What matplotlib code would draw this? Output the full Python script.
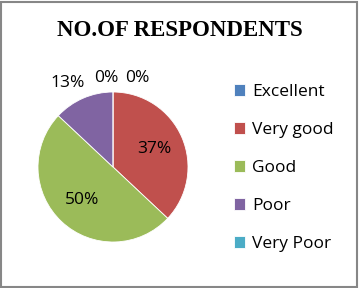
import matplotlib.pyplot as plt
from matplotlib.patches import Rectangle

categories = ["Excellent", "Very good", "Good", "Poor", "Very Poor"]
values = [0, 37, 50, 13, 0]
colors = ["#4F81BD", "#C0504D", "#9BBB59", "#8064A2", "#4BACC6"]

plt.rcParams['font.family'] = ['Open Sans', 'DejaVu Sans']

fig = plt.figure(figsize=(3.6, 2.88), dpi=100)
ax = fig.add_axes([38 / 360, 46 / 288, 150 / 360, 150 / 288])

wedges, texts, autotexts = ax.pie(values, colors=colors, startangle=90, counterclock=False,
                                  autopct=lambda p: f"{p:.0f}%", pctdistance=0.6,
                                  wedgeprops=dict(edgecolor="white", linewidth=0.6),
                                  textprops=dict(fontsize=12.5, color="black"))
ax.set_xlim(-1, 1)
ax.set_ylim(-1, 1)
ax.set_aspect("equal")

# small slices get their labels outside, like Excel does
outside = {0: (0.33, 1.18), 4: (-0.09, 1.18), 3: (-0.6, 1.12)}
for i, pos in outside.items():
    autotexts[i].set_position(pos)
for t in autotexts:
    t.set_clip_on(False)

fig.text(0.5, 1 - 30 / 288, "NO.OF RESPONDENTS", ha="center", va="center",
         fontsize=16.5, fontweight="bold", family="Liberation Serif")

leg = fig.legend(wedges, categories, loc="upper left", bbox_to_anchor=(234 / 360, 1 - 84 / 288),
                 frameon=False, fontsize=12.5, handlelength=0.65, handleheight=0.65,
                 handletextpad=0.4, labelspacing=1.27, borderaxespad=0, borderpad=0)

fig.patches.append(Rectangle((0.002, 0.004), 0.99, 0.99, transform=fig.transFigure,
                             fill=False, edgecolor="#878787", linewidth=1.5))

fig.savefig("out.png", dpi=100)
